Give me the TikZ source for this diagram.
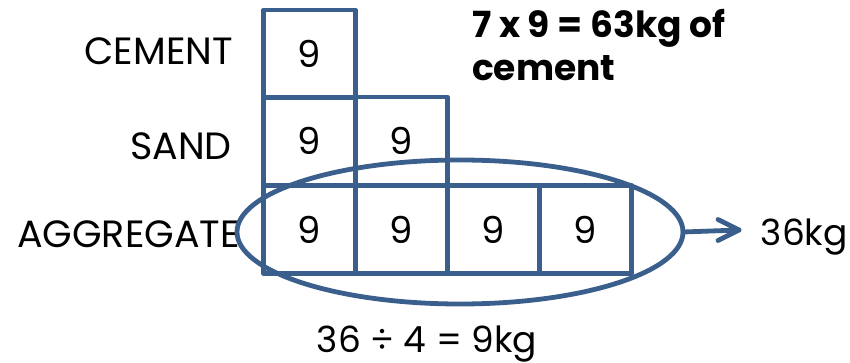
\documentclass[tikz,border=0pt]{standalone}
\usepackage{fontspec}
\setmainfont{Poppins}
\usetikzlibrary{arrows.meta,shapes.geometric}
\definecolor{gridblue}{RGB}{58,95,140}
\begin{document}
\begin{tikzpicture}[x=1pt,y=-1pt,
  cell/.style={draw=gridblue, line width=4.8pt, line join=round, minimum width=92pt, minimum height=88pt, inner sep=0pt, outer sep=0pt, font=\fontsize{37}{37}\selectfont},
  lbl/.style={font=\fontsize{38}{38}\selectfont, inner sep=0pt},
  bold/.style={font=\fontsize{36}{36}\selectfont\bfseries, inner sep=0pt, anchor=base west},
  conn/.style={gridblue, line width=4.8pt, line cap=round, line join=round}]
\useasboundingbox (0,0) rectangle (850,363);
% cells
\node[cell] (c1) at (309.5,54) {9};
\node[cell] (s1) at (309.5,141) {9};
\node[cell] (s2) at (401.5,141) {9};
\node[cell] (a1) at (309.5,229.5) {9};
\node[cell] (a2) at (401.5,229.5) {9};
\node[cell] (a3) at (493.5,229.5) {9};
\node[cell] (a4) at (585.5,229.5) {9};
% labels
\node[lbl, anchor=base east] (lc) at (233,65) {CEMENT};
\node[lbl, anchor=base east] (ls) at (232,160) {SAND};
\node[lbl, anchor=base east] (la) at (240,247) {AGGREGATE};
% ellipse
\node[ellipse, draw=gridblue, line width=4.8pt, minimum width=446pt, minimum height=144pt, inner sep=0pt, outer sep=0pt] (ell) at (460,232) {};
\coordinate (tip) at (739,230);
\draw[conn] (ell.east) -- (tip);
\draw[conn] (tip) ++(-21,-10.5) -- (tip) -- ++(-21,10.5);
\node[font=\fontsize{36}{36}\selectfont, inner sep=0pt, anchor=base east] (kg) at (848,245) {36kg};
\node[font=\fontsize{36}{36}\selectfont, inner sep=0pt, anchor=base] (div) at (427,352) {36 ÷ 4 = 9kg};
\node[bold] (t1) at (472,38) {7 x 9 = 63kg of};
\node[bold] (t2) at (472,81) {cement};
\end{tikzpicture}
\end{document}
